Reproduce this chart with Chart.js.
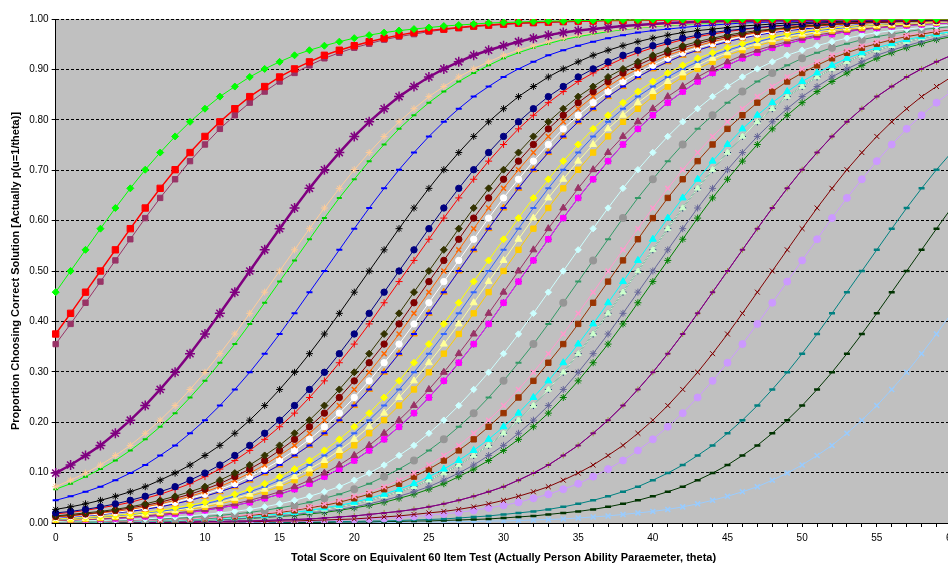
<!DOCTYPE html>
<html>
<head>
<meta charset="utf-8">
<script src="https://cdn.jsdelivr.net/npm/chart.js@4.4.1/dist/chart.umd.min.js"></script>
<style>
html, body { margin: 0; padding: 0; overflow: hidden; background: #fff; }
#wrap { width: 962px; height: 563px; }
</style>
</head>
<body>
<div id="wrap"><canvas id="chartCanvas" width="962" height="563"></canvas></div>
<script>
// total score (x axis categories)
const scores = [0,1,2,3,4,5,6,7,8,9,10,11,12,13,14,15,16,17,18,19,20,21,22,23,24,25,26,27,28,29,30,
  31,32,33,34,35,36,37,38,39,40,41,42,43,44,45,46,47,48,49,50,51,52,53,54,55,56,57,58,59,60];

// proportion correct per item (left to right)
const item01 = [0.458,0.5,0.542,0.584,0.625,0.664,0.701,0.735,0.767,0.796,0.822,0.846,0.866,0.885,0.901,0.915,
  0.928,0.938,0.947,0.955,0.962,0.968,0.973,0.977,0.98,0.983,0.986,0.988,0.99,0.992,0.993,0.994,0.995,0.996,0.996,0.997,
  0.997,0.998,0.998,0.998,0.999,0.999,0.999,0.999,0.999,0.999,1,1,1,1,1,1,1,1,1,1,1,1,1,1,1];
const item02 = [0.375,0.416,0.458,0.5,0.542,0.584,0.625,0.664,0.701,0.735,0.767,0.796,0.822,0.846,0.866,0.885,0.901,0.915,
  0.928,0.938,0.947,0.955,0.962,0.968,0.973,0.977,0.98,0.983,0.986,0.988,0.99,0.992,0.993,0.994,0.995,0.996,0.996,0.997,
  0.997,0.998,0.998,0.998,0.999,0.999,0.999,0.999,0.999,0.999,1,1,1,1,1,1,1,1,1,1,1,1,1];
const item03 = [0.355,0.395,0.437,0.479,0.521,0.563,0.605,0.645,0.682,0.718,0.751,0.782,0.809,0.834,0.856,0.876,0.893,0.908,0.922,
  0.933,0.943,0.951,0.959,0.965,0.97,0.975,0.979,0.982,0.985,0.987,0.989,0.991,0.992,0.993,0.994,0.995,0.996,0.997,0.997,
  0.998,0.998,0.998,0.999,0.999,0.999,0.999,0.999,0.999,0.999,1,1,1,1,1,1,1,1,1,1,1,1];
const item04 = [0.099,0.115,0.134,0.154,0.178,0.204,0.233,0.265,0.299,0.336,0.375,0.416,0.458,0.5,0.542,0.584,0.625,0.664,
  0.701,0.735,0.767,0.796,0.822,0.846,0.866,0.885,0.901,0.915,0.928,0.938,0.947,0.955,0.962,0.968,0.973,0.977,0.98,0.983,
  0.986,0.988,0.99,0.992,0.993,0.994,0.995,0.996,0.996,0.997,0.997,0.998,0.998,0.998,0.999,0.999,0.999,0.999,0.999,0.999,1,1,1];
const item05 = [0.072,0.085,0.099,0.115,0.134,0.154,0.178,0.204,0.233,0.265,0.299,0.336,0.375,0.416,0.458,0.5,0.542,0.584,0.625,0.664,
  0.701,0.735,0.767,0.796,0.822,0.846,0.866,0.885,0.901,0.915,0.928,0.938,0.947,0.955,0.962,0.968,0.973,0.977,0.98,0.983,
  0.986,0.988,0.99,0.992,0.993,0.994,0.995,0.996,0.996,0.997,0.997,0.998,0.998,0.998,0.999,0.999,0.999,0.999,0.999,0.999,1];
const item06 = [0.067,0.078,0.092,0.107,0.124,0.144,0.166,0.191,0.218,0.249,0.282,0.318,0.355,0.395,0.437,0.479,0.521,0.563,0.605,0.645,0.682,
  0.718,0.751,0.782,0.809,0.834,0.856,0.876,0.893,0.908,0.922,0.933,0.943,0.951,0.959,0.965,0.97,0.975,0.979,0.982,0.985,
  0.987,0.989,0.991,0.992,0.993,0.994,0.995,0.996,0.997,0.997,0.998,0.998,0.998,0.999,0.999,0.999,0.999,0.999,0.999,0.999];
const item07 = [0.045,0.053,0.062,0.072,0.085,0.099,0.115,0.134,0.154,0.178,0.204,0.233,0.265,0.299,0.336,0.375,0.416,0.458,0.5,0.542,0.584,0.625,0.664,
  0.701,0.735,0.767,0.796,0.822,0.846,0.866,0.885,0.901,0.915,0.928,0.938,0.947,0.955,0.962,0.968,0.973,0.977,0.98,0.983,
  0.986,0.988,0.99,0.992,0.993,0.994,0.995,0.996,0.996,0.997,0.997,0.998,0.998,0.998,0.999,0.999,0.999,0.999];
const item08 = [0.027,0.032,0.038,0.045,0.053,0.062,0.072,0.085,0.099,0.115,0.134,0.154,0.178,0.204,0.233,0.265,0.299,0.336,0.375,0.416,0.458,0.5,0.542,0.584,0.625,0.664,
  0.701,0.735,0.767,0.796,0.822,0.846,0.866,0.885,0.901,0.915,0.928,0.938,0.947,0.955,0.962,0.968,0.973,0.977,0.98,0.983,
  0.986,0.988,0.99,0.992,0.993,0.994,0.995,0.996,0.996,0.997,0.997,0.998,0.998,0.998,0.999];
const item09 = [0.02,0.023,0.027,0.032,0.038,0.045,0.053,0.062,0.072,0.085,0.099,0.115,0.134,0.154,0.178,0.204,0.233,0.265,0.299,0.336,0.375,0.416,0.458,0.5,0.542,0.584,0.625,0.664,
  0.701,0.735,0.767,0.796,0.822,0.846,0.866,0.885,0.901,0.915,0.928,0.938,0.947,0.955,0.962,0.968,0.973,0.977,0.98,0.983,
  0.986,0.988,0.99,0.992,0.993,0.994,0.995,0.996,0.996,0.997,0.997,0.998,0.998];
const item10 = [0.018,0.021,0.025,0.03,0.035,0.041,0.049,0.057,0.067,0.078,0.092,0.107,0.124,0.144,0.166,0.191,0.218,0.249,0.282,0.318,0.355,0.395,0.437,0.479,0.521,0.563,0.605,0.645,0.682,
  0.718,0.751,0.782,0.809,0.834,0.856,0.876,0.893,0.908,0.922,0.933,0.943,0.951,0.959,0.965,0.97,0.975,0.979,0.982,0.985,
  0.987,0.989,0.991,0.992,0.993,0.994,0.995,0.996,0.997,0.997,0.998,0.998];
const item11 = [0.014,0.017,0.02,0.023,0.027,0.032,0.038,0.045,0.053,0.062,0.072,0.085,0.099,0.115,0.134,0.154,0.178,0.204,0.233,0.265,
  0.299,0.336,0.375,0.416,0.458,0.5,0.542,0.584,0.625,0.664,0.701,0.735,0.767,0.796,0.822,0.846,0.866,0.885,0.901,0.915,
  0.928,0.938,0.947,0.955,0.962,0.968,0.973,0.977,0.98,0.983,0.986,0.988,0.99,0.992,0.993,0.994,0.995,0.996,0.996,0.997,0.997];
const item12 = [0.013,0.015,0.018,0.021,0.025,0.03,0.035,0.041,0.049,0.057,0.067,0.078,0.092,0.107,0.124,0.144,0.166,0.191,0.218,0.249,0.282,
  0.318,0.355,0.395,0.437,0.479,0.521,0.563,0.605,0.645,0.682,0.718,0.751,0.782,0.809,0.834,0.856,0.876,0.893,0.908,0.922,
  0.933,0.943,0.951,0.959,0.965,0.97,0.975,0.979,0.982,0.985,0.987,0.989,0.991,0.992,0.993,0.994,0.995,0.996,0.997,0.997];
const item13 = [0.012,0.014,0.017,0.02,0.023,0.027,0.032,0.038,0.045,0.053,0.062,0.072,0.085,0.099,0.115,0.134,0.154,0.178,0.204,0.233,0.265,
  0.299,0.336,0.375,0.416,0.458,0.5,0.542,0.584,0.625,0.664,0.701,0.735,0.767,0.796,0.822,0.846,0.866,0.885,0.901,0.915,
  0.928,0.938,0.947,0.955,0.962,0.968,0.973,0.977,0.98,0.983,0.986,0.988,0.99,0.992,0.993,0.994,0.995,0.996,0.996,0.997];
const item14 = [0.011,0.013,0.015,0.018,0.021,0.025,0.03,0.035,0.041,0.049,0.057,0.067,0.078,0.092,0.107,0.124,0.144,0.166,0.191,0.218,0.249,0.282,
  0.318,0.355,0.395,0.437,0.479,0.521,0.563,0.605,0.645,0.682,0.718,0.751,0.782,0.809,0.834,0.856,0.876,0.893,0.908,0.922,
  0.933,0.943,0.951,0.959,0.965,0.97,0.975,0.979,0.982,0.985,0.987,0.989,0.991,0.992,0.993,0.994,0.995,0.996,0.997];
const item15 = [0.01,0.012,0.014,0.017,0.02,0.023,0.027,0.032,0.038,0.045,0.053,0.062,0.072,0.085,0.099,0.115,0.134,0.154,0.178,0.204,0.233,0.265,
  0.299,0.336,0.375,0.416,0.458,0.5,0.542,0.584,0.625,0.664,0.701,0.735,0.767,0.796,0.822,0.846,0.866,0.885,0.901,0.915,
  0.928,0.938,0.947,0.955,0.962,0.968,0.973,0.977,0.98,0.983,0.986,0.988,0.99,0.992,0.993,0.994,0.995,0.996,0.996];
const item16 = [0.01,0.012,0.014,0.017,0.02,0.023,0.027,0.032,0.038,0.045,0.053,0.062,0.072,0.085,0.099,0.115,0.134,0.154,0.178,0.204,0.233,0.265,
  0.299,0.336,0.375,0.416,0.458,0.5,0.542,0.584,0.625,0.664,0.701,0.735,0.767,0.796,0.822,0.846,0.866,0.885,0.901,0.915,
  0.928,0.938,0.947,0.955,0.962,0.968,0.973,0.977,0.98,0.983,0.986,0.988,0.99,0.992,0.993,0.994,0.995,0.996,0.996];
const item17 = [0.008,0.009,0.011,0.013,0.015,0.018,0.021,0.025,0.03,0.035,0.041,0.049,0.057,0.067,0.078,0.092,0.107,0.124,0.144,0.166,0.191,0.218,0.249,0.282,
  0.318,0.355,0.395,0.437,0.479,0.521,0.563,0.605,0.645,0.682,0.718,0.751,0.782,0.809,0.834,0.856,0.876,0.893,0.908,0.922,
  0.933,0.943,0.951,0.959,0.965,0.97,0.975,0.979,0.982,0.985,0.987,0.989,0.991,0.992,0.993,0.994,0.995];
const item18 = [0.007,0.008,0.01,0.012,0.014,0.017,0.02,0.023,0.027,0.032,0.038,0.045,0.053,0.062,0.072,0.085,0.099,0.115,0.134,0.154,0.178,0.204,0.233,0.265,
  0.299,0.336,0.375,0.416,0.458,0.5,0.542,0.584,0.625,0.664,0.701,0.735,0.767,0.796,0.822,0.846,0.866,0.885,0.901,0.915,
  0.928,0.938,0.947,0.955,0.962,0.968,0.973,0.977,0.98,0.983,0.986,0.988,0.99,0.992,0.993,0.994,0.995];
const item19 = [0.007,0.008,0.009,0.011,0.013,0.015,0.018,0.021,0.025,0.03,0.035,0.041,0.049,0.057,0.067,0.078,0.092,0.107,0.124,0.144,0.166,0.191,0.218,0.249,0.282,
  0.318,0.355,0.395,0.437,0.479,0.521,0.563,0.605,0.645,0.682,0.718,0.751,0.782,0.809,0.834,0.856,0.876,0.893,0.908,0.922,
  0.933,0.943,0.951,0.959,0.965,0.97,0.975,0.979,0.982,0.985,0.987,0.989,0.991,0.992,0.993,0.994];
const item20 = [0.006,0.007,0.008,0.01,0.012,0.014,0.017,0.02,0.023,0.027,0.032,0.038,0.045,0.053,0.062,0.072,0.085,0.099,0.115,0.134,0.154,0.178,0.204,0.233,0.265,
  0.299,0.336,0.375,0.416,0.458,0.5,0.542,0.584,0.625,0.664,0.701,0.735,0.767,0.796,0.822,0.846,0.866,0.885,0.901,0.915,
  0.928,0.938,0.947,0.955,0.962,0.968,0.973,0.977,0.98,0.983,0.986,0.988,0.99,0.992,0.993,0.994];
const item21 = [0.005,0.006,0.007,0.008,0.01,0.012,0.014,0.017,0.02,0.023,0.027,0.032,0.038,0.045,0.053,0.062,0.072,0.085,0.099,0.115,0.134,0.154,0.178,0.204,0.233,0.265,
  0.299,0.336,0.375,0.416,0.458,0.5,0.542,0.584,0.625,0.664,0.701,0.735,0.767,0.796,0.822,0.846,0.866,0.885,0.901,0.915,
  0.928,0.938,0.947,0.955,0.962,0.968,0.973,0.977,0.98,0.983,0.986,0.988,0.99,0.992,0.993];
const item22 = [0.005,0.006,0.007,0.008,0.009,0.011,0.013,0.015,0.018,0.021,0.025,0.03,0.035,0.041,0.049,0.057,0.067,0.078,0.092,0.107,0.124,0.144,0.166,0.191,0.218,0.249,0.282,
  0.318,0.355,0.395,0.437,0.479,0.521,0.563,0.605,0.645,0.682,0.718,0.751,0.782,0.809,0.834,0.856,0.876,0.893,0.908,0.922,
  0.933,0.943,0.951,0.959,0.965,0.97,0.975,0.979,0.982,0.985,0.987,0.989,0.991,0.992];
const item23 = [0.005,0.006,0.007,0.008,0.009,0.011,0.013,0.015,0.018,0.021,0.025,0.03,0.035,0.041,0.049,0.057,0.067,0.078,0.092,0.107,0.124,0.144,0.166,0.191,0.218,0.249,0.282,
  0.318,0.355,0.395,0.437,0.479,0.521,0.563,0.605,0.645,0.682,0.718,0.751,0.782,0.809,0.834,0.856,0.876,0.893,0.908,0.922,
  0.933,0.943,0.951,0.959,0.965,0.97,0.975,0.979,0.982,0.985,0.987,0.989,0.991,0.992];
const item24 = [0.003,0.004,0.004,0.005,0.006,0.007,0.008,0.01,0.012,0.014,0.017,0.02,0.023,0.027,0.032,0.038,0.045,0.053,0.062,
  0.072,0.085,0.099,0.115,0.134,0.154,0.178,0.204,0.233,0.265,0.299,0.336,0.375,0.416,0.458,0.5,0.542,0.584,0.625,0.664,
  0.701,0.735,0.767,0.796,0.822,0.846,0.866,0.885,0.901,0.915,0.928,0.938,0.947,0.955,0.962,0.968,0.973,0.977,0.98,0.983,0.986,0.988];
const item25 = [0.002,0.003,0.003,0.004,0.005,0.006,0.007,0.008,0.009,0.011,0.013,0.015,0.018,0.021,0.025,0.03,0.035,0.041,0.049,0.057,0.067,
  0.078,0.092,0.107,0.124,0.144,0.166,0.191,0.218,0.249,0.282,0.318,0.355,0.395,0.437,0.479,0.521,0.563,0.605,0.645,0.682,
  0.718,0.751,0.782,0.809,0.834,0.856,0.876,0.893,0.908,0.922,0.933,0.943,0.951,0.959,0.965,0.97,0.975,0.979,0.982,0.985];
const item26 = [0.002,0.002,0.003,0.003,0.004,0.004,0.005,0.006,0.007,0.008,0.01,0.012,0.014,0.017,0.02,0.023,0.027,0.032,0.038,0.045,0.053,0.062,
  0.072,0.085,0.099,0.115,0.134,0.154,0.178,0.204,0.233,0.265,0.299,0.336,0.375,0.416,0.458,0.5,0.542,0.584,0.625,0.664,
  0.701,0.735,0.767,0.796,0.822,0.846,0.866,0.885,0.901,0.915,0.928,0.938,0.947,0.955,0.962,0.968,0.973,0.977,0.98];
const item27 = [0.002,0.002,0.002,0.003,0.003,0.004,0.005,0.006,0.007,0.008,0.009,0.011,0.013,0.015,0.018,0.021,0.025,0.03,0.035,0.041,0.049,0.057,0.067,
  0.078,0.092,0.107,0.124,0.144,0.166,0.191,0.218,0.249,0.282,0.318,0.355,0.395,0.437,0.479,0.521,0.563,0.605,0.645,0.682,
  0.718,0.751,0.782,0.809,0.834,0.856,0.876,0.893,0.908,0.922,0.933,0.943,0.951,0.959,0.965,0.97,0.975,0.979];
const item28 = [0.001,0.002,0.002,0.002,0.003,0.003,0.004,0.005,0.006,0.007,0.008,0.009,0.011,0.013,0.015,0.018,0.021,0.025,0.03,0.035,0.041,0.049,0.057,0.067,
  0.078,0.092,0.107,0.124,0.144,0.166,0.191,0.218,0.249,0.282,0.318,0.355,0.395,0.437,0.479,0.521,0.563,0.605,0.645,0.682,
  0.718,0.751,0.782,0.809,0.834,0.856,0.876,0.893,0.908,0.922,0.933,0.943,0.951,0.959,0.965,0.97,0.975];
const item29 = [0.001,0.002,0.002,0.002,0.003,0.003,0.004,0.004,0.005,0.006,0.007,0.008,0.01,0.012,0.014,0.017,0.02,0.023,0.027,0.032,0.038,0.045,0.053,0.062,
  0.072,0.085,0.099,0.115,0.134,0.154,0.178,0.204,0.233,0.265,0.299,0.336,0.375,0.416,0.458,0.5,0.542,0.584,0.625,0.664,
  0.701,0.735,0.767,0.796,0.822,0.846,0.866,0.885,0.901,0.915,0.928,0.938,0.947,0.955,0.962,0.968,0.973];
const item30 = [0.001,0.002,0.002,0.002,0.003,0.003,0.004,0.004,0.005,0.006,0.007,0.008,0.01,0.012,0.014,0.017,0.02,0.023,0.027,0.032,0.038,0.045,0.053,0.062,
  0.072,0.085,0.099,0.115,0.134,0.154,0.178,0.204,0.233,0.265,0.299,0.336,0.375,0.416,0.458,0.5,0.542,0.584,0.625,0.664,
  0.701,0.735,0.767,0.796,0.822,0.846,0.866,0.885,0.901,0.915,0.928,0.938,0.947,0.955,0.962,0.968,0.973];
const item31 = [0.001,0.001,0.002,0.002,0.002,0.003,0.003,0.004,0.004,0.005,0.006,0.007,0.008,0.01,0.012,0.014,0.017,0.02,0.023,0.027,0.032,0.038,0.045,0.053,0.062,
  0.072,0.085,0.099,0.115,0.134,0.154,0.178,0.204,0.233,0.265,0.299,0.336,0.375,0.416,0.458,0.5,0.542,0.584,0.625,0.664,
  0.701,0.735,0.767,0.796,0.822,0.846,0.866,0.885,0.901,0.915,0.928,0.938,0.947,0.955,0.962,0.968];
const item32 = [0.001,0.001,0.001,0.002,0.002,0.002,0.003,0.003,0.004,0.005,0.006,0.007,0.008,0.009,0.011,0.013,0.015,0.018,0.021,0.025,0.03,0.035,0.041,0.049,0.057,0.067,
  0.078,0.092,0.107,0.124,0.144,0.166,0.191,0.218,0.249,0.282,0.318,0.355,0.395,0.437,0.479,0.521,0.563,0.605,0.645,0.682,
  0.718,0.751,0.782,0.809,0.834,0.856,0.876,0.893,0.908,0.922,0.933,0.943,0.951,0.959,0.965];
const item33 = [0,0.001,0.001,0.001,0.001,0.001,0.001,0.002,0.002,0.002,0.003,0.003,0.004,0.004,0.005,0.006,0.007,0.008,0.01,0.012,
  0.014,0.017,0.02,0.023,0.027,0.032,0.038,0.045,0.053,0.062,0.072,0.085,0.099,0.115,0.134,0.154,0.178,0.204,0.233,0.265,
  0.299,0.336,0.375,0.416,0.458,0.5,0.542,0.584,0.625,0.664,0.701,0.735,0.767,0.796,0.822,0.846,0.866,0.885,0.901,0.915,0.928];
const item34 = [0,0.001,0.001,0.001,0.001,0.001,0.001,0.002,0.002,0.002,0.003,0.003,0.004,0.004,0.005,0.006,0.007,0.008,0.01,0.012,
  0.014,0.017,0.02,0.023,0.027,0.032,0.038,0.045,0.053,0.062,0.072,0.085,0.099,0.115,0.134,0.154,0.178,0.204,0.233,0.265,
  0.299,0.336,0.375,0.416,0.458,0.5,0.542,0.584,0.625,0.664,0.701,0.735,0.767,0.796,0.822,0.846,0.866,0.885,0.901,0.915,0.928];
const item35 = [0,0,0,0,0.001,0.001,0.001,0.001,0.001,0.001,0.002,0.002,0.002,0.003,0.003,0.004,0.004,0.005,0.006,0.007,0.008,0.01,0.012,
  0.014,0.017,0.02,0.023,0.027,0.032,0.038,0.045,0.053,0.062,0.072,0.085,0.099,0.115,0.134,0.154,0.178,0.204,0.233,0.265,
  0.299,0.336,0.375,0.416,0.458,0.5,0.542,0.584,0.625,0.664,0.701,0.735,0.767,0.796,0.822,0.846,0.866,0.885];
const item36 = [0,0,0,0,0,0.001,0.001,0.001,0.001,0.001,0.001,0.001,0.002,0.002,0.002,0.003,0.003,0.004,0.005,0.006,0.007,0.008,0.009,0.011,0.013,
  0.015,0.018,0.021,0.025,0.03,0.035,0.041,0.049,0.057,0.067,0.078,0.092,0.107,0.124,0.144,0.166,0.191,0.218,0.249,0.282,
  0.318,0.355,0.395,0.437,0.479,0.521,0.563,0.605,0.645,0.682,0.718,0.751,0.782,0.809,0.834,0.856];
const item37 = [0,0,0,0,0,0,0,0,0,0,0.001,0.001,0.001,0.001,0.001,0.001,0.002,0.002,0.002,0.003,0.003,0.004,0.004,0.005,0.006,0.007,0.008,0.01,0.012,
  0.014,0.017,0.02,0.023,0.027,0.032,0.038,0.045,0.053,0.062,0.072,0.085,0.099,0.115,0.134,0.154,0.178,0.204,0.233,0.265,
  0.299,0.336,0.375,0.416,0.458,0.5,0.542,0.584,0.625,0.664,0.701,0.735];
const item38 = [0,0,0,0,0,0,0,0,0,0,0,0,0,0.001,0.001,0.001,0.001,0.001,0.001,0.002,0.002,0.002,0.003,0.003,0.004,0.004,0.005,0.006,0.007,0.008,0.01,0.012,
  0.014,0.017,0.02,0.023,0.027,0.032,0.038,0.045,0.053,0.062,0.072,0.085,0.099,0.115,0.134,0.154,0.178,0.204,0.233,0.265,
  0.299,0.336,0.375,0.416,0.458,0.5,0.542,0.584,0.625];
const item39 = [0,0,0,0,0,0,0,0,0,0,0,0,0,0,0,0,0,0,0.001,0.001,0.001,0.001,0.001,0.001,0.002,0.002,0.002,0.003,0.003,0.004,0.004,0.005,0.006,0.007,0.008,0.01,0.012,
  0.014,0.017,0.02,0.023,0.027,0.032,0.038,0.045,0.053,0.062,0.072,0.085,0.099,0.115,0.134,0.154,0.178,0.204,0.233,0.265,
  0.299,0.336,0.375,0.416];

const yTicks = [0, 0.1, 0.2, 0.3, 0.4, 0.5, 0.6, 0.7, 0.8, 0.9, 1];
const xTitle = 'Total Score on Equivalent 60 Item Test (Actually Person Ability Paraemeter, theta)';
const yTitle = 'Proportion Choosing Correct Solution [Actually p(u=1/theta)]';

const FONT = '"Liberation Sans", Arial, sans-serif';

function curve(label, data, color, pointStyle, radius, more) {
  return Object.assign({
    label: label, data: data,
    borderColor: color, backgroundColor: color,
    pointBorderColor: color, pointBackgroundColor: color,
    pointStyle: pointStyle, pointRadius: radius, pointBorderWidth: 1,
    borderWidth: 1, tension: 0, fill: false
  }, more || {});
}
const dash = { pointBorderWidth: 2 };

// seagreen curve shows gray dots and green dashes in turn
const altStyle = scores.map(s => s % 2 === 0 ? 'circle' : 'line');
const altColor = scores.map(s => s % 2 === 0 ? '#969696' : '#339966');

const datasets = [
  curve('Item 1', item01, '#00FF00', 'rectRot', 3.5),
  curve('Item 2', item02, '#FF0000', 'rect', 4.5, { borderWidth: 1.5 }),
  curve('Item 3', item03, '#993366', 'rect', 3.8),
  curve('Item 4', item04, '#800080', 'star', 5, { borderWidth: 2.5, pointBorderWidth: 1.5 }),
  curve('Item 5', item05, '#FFCC99', 'star', 3.5),
  curve('Item 6', item06, '#00FF00', 'line', 2.5, { pointBorderWidth: 2, pointBorderColor: '#00CC00' }),
  curve('Item 7', item07, '#0000FF', 'line', 3, dash),
  curve('Item 8', item08, '#000000', 'star', 3.5),
  curve('Item 9', item09, '#000080', 'circle', 3.2),
  curve('Item 10', item10, '#FF0000', 'cross', 3.5),
  curve('Item 11', item11, '#333300', 'rectRot', 3.5),
  curve('Item 12', item12, '#800000', 'circle', 3.2),
  curve('Item 13', item13, '#FF6600', 'crossRot', 3.5, { pointBorderWidth: 1.5 }),
  curve('Item 14', item14, '#FFFFFF', 'circle', 3.2),
  curve('Item 15', item15, '#0000FF', 'line', 3, dash),
  curve('Item 16', item16, '#FF9900', 'triangle', 4),
  curve('Item 17', item17, '#FFFF00', 'rectRot', 3.5),
  curve('Item 18', item18, '#3366FF', 'line', 3, dash),
  curve('Item 19', item19, '#FFFF99', 'triangle', 4),
  curve('Item 20', item20, '#FFCC00', 'rect', 3.8),
  curve('Item 21', item21, '#993366', 'triangle', 4),
  curve('Item 22', item22, '#FF00FF', 'rect', 3.8),
  curve('Item 23', item23, '#008080', 'cross', 3.5),
  curve('Item 24', item24, '#CCFFFF', 'rectRot', 3.2),
  curve('Item 25', item25, '#339966', altStyle, 3, { pointBorderColor: altColor, pointBackgroundColor: altColor, pointBorderWidth: 2 }),
  curve('Item 26', item26, '#FF99CC', 'crossRot', 3.5, { pointBorderWidth: 1.5 }),
  curve('Item 27', item27, '#993300', 'rect', 3.8),
  curve('Item 28', item28, '#00FFFF', 'triangle', 4),
  curve('Item 29', item29, '#CCFFCC', 'triangle', 3.5),
  curve('Item 30', item30, '#003366', 'cross', 3.5),
  curve('Item 31', item31, '#666699', 'star', 3.5),
  curve('Item 32', item32, '#008000', 'star', 3.5),
  curve('Item 33', item33, '#800080', 'line', 2.5, dash),
  curve('Item 34', item34, '#999933', 'cross', 3, { borderColor: '#800080' }),
  curve('Item 35', item35, '#800000', 'crossRot', 3.5),
  curve('Item 36', item36, '#CC99FF', 'circle', 3.5),
  curve('Item 37', item37, '#008080', 'line', 3, { pointBorderWidth: 2.5 }),
  curve('Item 38', item38, '#003300', 'line', 3, { pointBorderWidth: 2.5 }),
  curve('Item 39', item39, '#99CCFF', 'crossRot', 3.5, { pointBorderWidth: 1.5 })
];

const plotBackground = {
  id: 'plotBackground',
  beforeDraw(chart) {
    const a = chart.chartArea, ctx = chart.ctx;
    ctx.save();
    ctx.fillStyle = '#C0C0C0';
    ctx.fillRect(a.left, a.top, a.right - a.left, a.bottom - a.top);
    ctx.restore();
  }
};

const chart = new Chart(document.getElementById('chartCanvas').getContext('2d'), {
  type: 'line',
  data: { labels: scores, datasets: datasets },
  plugins: [plotBackground],
  options: {
    responsive: false,
    animation: false,
    events: [],
    layout: { padding: { left: 9, top: 19, right: 3, bottom: 0 } },
    plugins: { legend: { display: false }, tooltip: { enabled: false } },
    scales: {
      x: {
        type: 'category',
        offset: false,
        ticks: {
          autoSkip: false, maxRotation: 0, padding: 5, color: '#000',
          font: { family: FONT, size: 10 },
          callback: (v, i) => (scores[i] % 5 === 0 ? String(scores[i]) : '')
        },
        grid: { drawOnChartArea: false, drawTicks: true, tickLength: 4, color: '#000' },
        border: { display: true, color: '#000', width: 1 },
        title: { display: true, text: xTitle, color: '#000', padding: { top: 3, bottom: 0 },
          font: { family: FONT, size: 11, weight: 'bold', lineHeight: 1 } }
      },
      y: {
        min: 0, max: 1,
        afterBuildTicks: axis => { axis.ticks = yTicks.map(v => ({ value: v })); },
        ticks: { color: '#000', padding: 3, font: { family: FONT, size: 10 }, callback: v => Number(v).toFixed(2) },
        grid: { color: '#000', lineWidth: 1, drawTicks: true, tickLength: 4, tickColor: '#000', tickBorderDash: [] },
        border: { display: true, color: '#000', width: 1, dash: [3, 2] },
        title: { display: true, text: yTitle, color: '#000', padding: { top: 0, bottom: 4 },
          font: { family: FONT, size: 11, weight: 'bold' } }
      }
    }
  }
});
</script>
</body>
</html>
